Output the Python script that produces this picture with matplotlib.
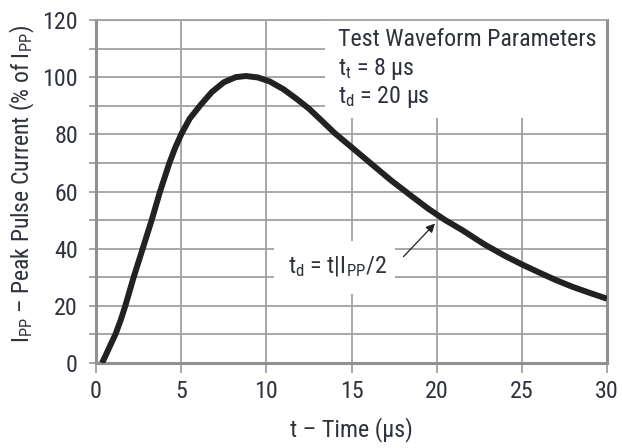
import matplotlib
matplotlib.use("Agg")
import matplotlib.pyplot as plt
from matplotlib.patches import Rectangle

# ---- data ----
time_us = [0.35, 0.55, 0.8, 1.14, 1.45, 1.72, 2.21, 2.74, 3.27, 3.76, 4.31, 4.65, 5.0,
           5.5, 6.17, 6.8, 7.5, 8.2, 8.8, 9.5, 10.2, 11.0, 11.8, 12.5, 13.3,
           14.0, 15.0, 16.2, 17.3, 18.5, 19.5, 20.5, 21.5, 22.8, 24.0, 25.0,
           26.0, 27.0, 28.0, 29.0, 30.0]
current_pct = [0, 2.4, 5.7, 10, 15, 20, 30, 40, 50, 60, 70, 75.3, 80,
               85.5, 90.5, 94.8, 98.2, 100.0, 100.4, 99.9, 98.5, 95.8, 92.3, 89.0, 84.5,
               80.5, 75.5, 69.5, 64.0, 58.5, 54.0, 50.0, 46.5, 41.5, 37.5, 34.5,
               31.7, 29.0, 26.6, 24.5, 22.5]
x_ticks = [0, 5, 10, 15, 20, 25, 30]
y_ticks = [0, 20, 40, 60, 80, 100, 120]
y_grid = [10, 30, 50, 70, 90, 110]

FONT = ['Roboto Condensed', 'Roboto', 'DejaVu Sans']
plt.rcParams['font.family'] = FONT
plt.rcParams['mathtext.fontset'] = 'custom'
plt.rcParams['mathtext.rm'] = 'Roboto Condensed'
plt.rcParams['mathtext.it'] = 'Roboto Condensed'
plt.rcParams['mathtext.bf'] = 'Roboto Condensed'
plt.rcParams['mathtext.default'] = 'rm'

TXT = '#2e323c'
GRID = '#a0a0a0'
SP = '#909090'
FS = 17.3

fig = plt.figure(figsize=(6.22, 4.48), dpi=100)
ax = fig.add_axes([96/622, (448-363)/448, (607-96)/622, (363-20)/448])

ax.set_xlim(0, 30)
ax.set_ylim(0, 120)
ax.set_xticks(x_ticks)
ax.set_yticks(y_ticks)
ax.set_yticks(y_grid, minor=True)
ax.set_axisbelow(True)
ax.grid(True, which='both', axis='y', color=GRID, lw=1.3)
ax.grid(True, which='major', axis='x', color=GRID, lw=1.3)

for s in ['left', 'bottom', 'right']:
    ax.spines[s].set_color(SP)
    ax.spines[s].set_linewidth(2.2)
ax.spines['top'].set_color(GRID)
ax.spines['top'].set_linewidth(1.3)

ax.tick_params(axis='y', which='both', length=5, width=1.3, color=GRID,
               labelsize=FS, labelcolor=TXT, pad=8)
ax.tick_params(axis='y', which='minor', labelleft=False)
ax.tick_params(axis='x', length=7, width=1.3, color=GRID,
               labelsize=FS, labelcolor=TXT, pad=5)

# white boxes behind annotations
ax.add_patch(Rectangle((13.45, 85.7), 30 - 13.45, 120 - 85.7, facecolor='white',
                       edgecolor='none', zorder=1))
ax.add_patch(Rectangle((10.45, 24.3), 17.56 - 10.45, 42.8 - 24.3, facecolor='white',
                       edgecolor='none', zorder=1))

ax.plot(time_us, current_pct, color='#222222', lw=4.3, solid_capstyle='butt',
        solid_joinstyle='round', zorder=3)

ax.text(14.2, 113.1, 'Test Waveform Parameters', fontsize=FS, color=TXT,
        ha='left', va='center', zorder=4)
ax.text(14.2, 102.9, r'$\mathrm{t_t}$ = 8 μs', fontsize=FS, color=TXT,
        ha='left', va='center', zorder=4)
ax.text(14.2, 93.2, r'$\mathrm{t_d}$ = 20 μs', fontsize=FS, color=TXT,
        ha='left', va='center', zorder=4)

ax.text(11.25, 33.7, r'$\mathrm{t_d}$ = t|I$_\mathrm{PP}$/2', fontsize=FS, color=TXT,
        ha='left', va='center', zorder=4)
ax.annotate('', xy=(19.9, 48.8), xytext=(18.05, 37.2),
            arrowprops=dict(arrowstyle='-|>', color='#222222', lw=0.9,
                            mutation_scale=13, shrinkA=0, shrinkB=0), zorder=4)

ax.set_xlabel('t – Time (μs)', fontsize=FS, color=TXT, va='center')
ax.xaxis.set_label_coords(0.5, -0.195)
ax.set_ylabel(r'I$_\mathrm{PP}$ – Peak Pulse Current (% of I$_\mathrm{PP}$)',
              fontsize=17, color=TXT, va='center')
ax.yaxis.set_label_coords(-0.143, 0.523)

fig.savefig('out.png', dpi=100)
